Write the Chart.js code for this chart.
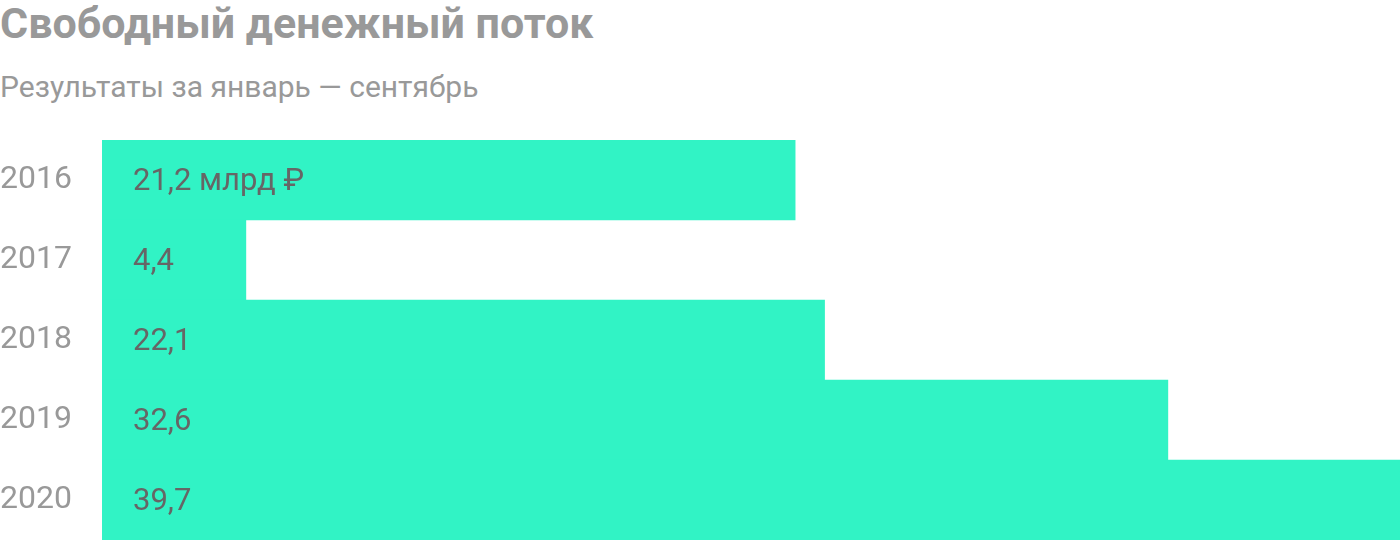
<!DOCTYPE html>
<html>
<head>
<meta charset="utf-8">
<script src="https://cdn.jsdelivr.net/npm/chart.js@4"></script>
<style>
  body { margin: 0; background: #fff; font-family: Roboto, sans-serif; }
  #wrap { position: relative; width: 1400px; height: 540px; overflow: hidden; }
  #title { position: absolute; left: 0; top: 2px; font-size: 43px; line-height: 1; font-weight: bold; color: #999; white-space: nowrap; }
  #subtitle { position: absolute; left: 0; top: 72px; font-size: 30px; line-height: 1; color: #999; white-space: nowrap; }
  #box { position: absolute; left: 0; top: 140px; width: 1400px; height: 400px; }
</style>
</head>
<body>
<div id="wrap">
  <div id="title">Свободный денежный поток</div>
  <div id="subtitle">Результаты за январь — сентябрь</div>
  <div id="box"><canvas id="fcfChart"></canvas></div>
</div>
<script>
var years = ["2016", "2017", "2018", "2019", "2020"];
var values = [21.2, 4.4, 22.1, 32.6, 39.7];
var valueLabels = ["21,2 млрд ₽", "4,4", "22,1", "32,6", "39,7"];

// подписи внутри столбцов
var insideLabels = {
	id: 'insideLabels',
	afterDatasetsDraw: function (chart) {
		var ctx = chart.ctx;
		var meta = chart.getDatasetMeta(0);
		ctx.save();
		ctx.font = '31px Roboto';
		ctx.fillStyle = '#666';
		ctx.textBaseline = 'middle';
		ctx.textAlign = 'left';
		meta.data.forEach(function (bar, i) {
			ctx.fillText(valueLabels[i], bar.base + 31, bar.y + 2);
		});
		ctx.restore();
	}
};

var ctx = document.getElementById("fcfChart");
var chart = new Chart(ctx, {
	type: "bar",
	data: {
		labels: years,
		datasets: [{
			data: values,
			backgroundColor: '#31f3c5',
			borderWidth: 0,
			barPercentage: 1,
			categoryPercentage: 1
		}]
	},
	options: {
		indexAxis: 'y',
		responsive: true,
		maintainAspectRatio: false,
		animation: false,
		layout: { padding: 0 },
		plugins: {
			legend: { display: false },
			tooltip: { enabled: false }
		},
		scales: {
			x: {
				display: false,
				min: 0,
				max: 39.7
			},
			y: {
				grid: { display: false, drawTicks: false },
				border: { display: false },
				ticks: {
					crossAlign: 'far',
					padding: 0,
					color: '#999',
					font: { family: 'Roboto', size: 32 }
				},
				afterFit: function (scale) {
					scale.width = 102;
					scale.paddingTop = 0;
					scale.paddingBottom = 0;
				}
			}
		}
	},
	plugins: [insideLabels]
});
</script>
</body>
</html>
